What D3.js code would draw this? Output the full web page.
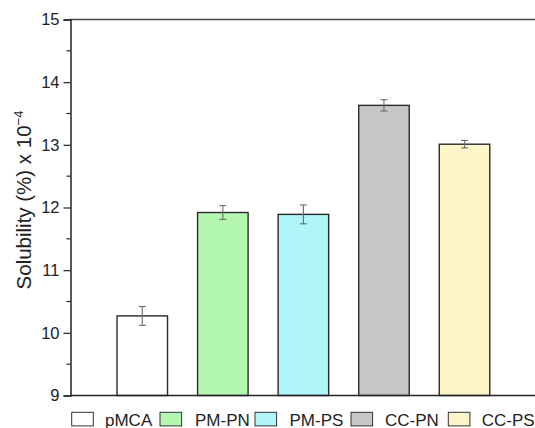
<!DOCTYPE html>
<html>
<head>
<meta charset="utf-8">
<script src="https://cdn.jsdelivr.net/npm/d3@7/dist/d3.min.js"></script>
<style>
  html, body { margin: 0; padding: 0; background: #fff; }
  svg { display: block; font-family: "Liberation Sans", Arial, sans-serif; }
</style>
</head>
<body>
<svg id="chart" width="535" height="428"></svg>
<script>
// Solubility of each formulation (% x 10^-4) with standard deviation
const categories = ["pMCA", "PM-PN", "PM-PS", "CC-PN", "CC-PS"];
const solubility = [10.27, 11.92, 11.89, 13.63, 13.01];
const errors     = [0.15, 0.11, 0.15, 0.09, 0.06];
const barColors  = ["#ffffff", "#b3f7b1", "#b0f6f9", "#c6c6c6", "#fdf5c7"];
const yTicks     = [9, 10, 11, 12, 13, 14, 15];
const yMinorTicks = [9.5, 10.5, 11.5, 12.5, 13.5, 14.5];

const svg = d3.select("#chart");
const plot = { left: 70.5, right: 535, top: 19.5, bottom: 395.5 };

const y = d3.scaleLinear().domain([9, 15]).range([plot.bottom, plot.top]);
const x = d3.scaleBand()
  .domain(categories)
  .range([102, 504.8])
  .paddingInner(0.373)
  .paddingOuter(0.1865);

// top frame line
svg.append("line")
  .attr("x1", plot.left).attr("x2", plot.right)
  .attr("y1", plot.top).attr("y2", plot.top)
  .attr("stroke", "#444").attr("stroke-width", 1.5);

// bars
svg.append("g").selectAll("rect")
  .data(categories)
  .join("rect")
  .attr("x", d => x(d))
  .attr("width", x.bandwidth())
  .attr("y", (d, i) => y(solubility[i]))
  .attr("height", (d, i) => y(9) - y(solubility[i]))
  .attr("fill", (d, i) => barColors[i])
  .attr("stroke", "#2a2a2a")
  .attr("stroke-width", 1.4);

// error bars
const eg = svg.append("g").attr("stroke", "#6a6a6a").attr("stroke-width", 1.1);
categories.forEach((c, i) => {
  const cx = x(c) + x.bandwidth() / 2;
  const hi = y(solubility[i] + errors[i]);
  const lo = y(solubility[i] - errors[i]);
  eg.append("line").attr("x1", cx).attr("x2", cx).attr("y1", hi).attr("y2", lo);
  eg.append("line").attr("x1", cx - 3.5).attr("x2", cx + 3.5).attr("y1", hi).attr("y2", hi);
  eg.append("line").attr("x1", cx - 3.5).attr("x2", cx + 3.5).attr("y1", lo).attr("y2", lo);
});

// bottom axis line
svg.append("line")
  .attr("x1", plot.left).attr("x2", plot.right)
  .attr("y1", plot.bottom).attr("y2", plot.bottom)
  .attr("stroke", "#222").attr("stroke-width", 1.5);

// y axis with major and minor ticks
const yAxis = svg.append("g")
  .attr("transform", `translate(${plot.left},0)`)
  .call(d3.axisLeft(y).tickValues(yTicks).tickSize(7).tickPadding(4).tickFormat(d3.format("d")));
yAxis.select(".domain").attr("stroke", "#222").attr("stroke-width", 1.5);
yAxis.selectAll(".tick line").attr("stroke", "#222").attr("stroke-width", 1.2);
yAxis.selectAll(".tick text")
  .attr("font-size", 16.5).attr("fill", "#222")
  .attr("font-family", "Liberation Sans, Arial, sans-serif");

svg.append("g")
  .attr("transform", `translate(${plot.left},0)`)
  .selectAll("line")
  .data(yMinorTicks)
  .join("line")
  .attr("x1", -4).attr("x2", 0)
  .attr("y1", d => y(d)).attr("y2", d => y(d))
  .attr("stroke", "#222").attr("stroke-width", 1.2);

// y axis title with superscript exponent
const title = svg.append("text")
  .attr("transform", `translate(31,200) rotate(-90)`)
  .attr("text-anchor", "middle")
  .attr("font-size", 20.5)
  .attr("fill", "#222");
title.append("tspan").text("Solubility (%) x 10");
title.append("tspan").attr("dy", -8.5).attr("font-size", 13).text("\u22124");

// legend
const legendItems = [
  { box: 71.7, text: 105 },
  { box: 160, text: 195 },
  { box: 255, text: 289.5 },
  { box: 351, text: 385 },
  { box: 448.3, text: 481.7 }
];
const lg = svg.append("g");
categories.forEach((c, i) => {
  lg.append("rect")
    .attr("x", legendItems[i].box).attr("y", 412.3)
    .attr("width", 21.6).attr("height", 13.6)
    .attr("fill", barColors[i])
    .attr("stroke", "#333").attr("stroke-width", 1);
  lg.append("text")
    .attr("x", legendItems[i].text).attr("y", 425.5)
    .attr("font-size", 17).attr("fill", "#222")
    .text(c);
});
</script>
</body>
</html>
